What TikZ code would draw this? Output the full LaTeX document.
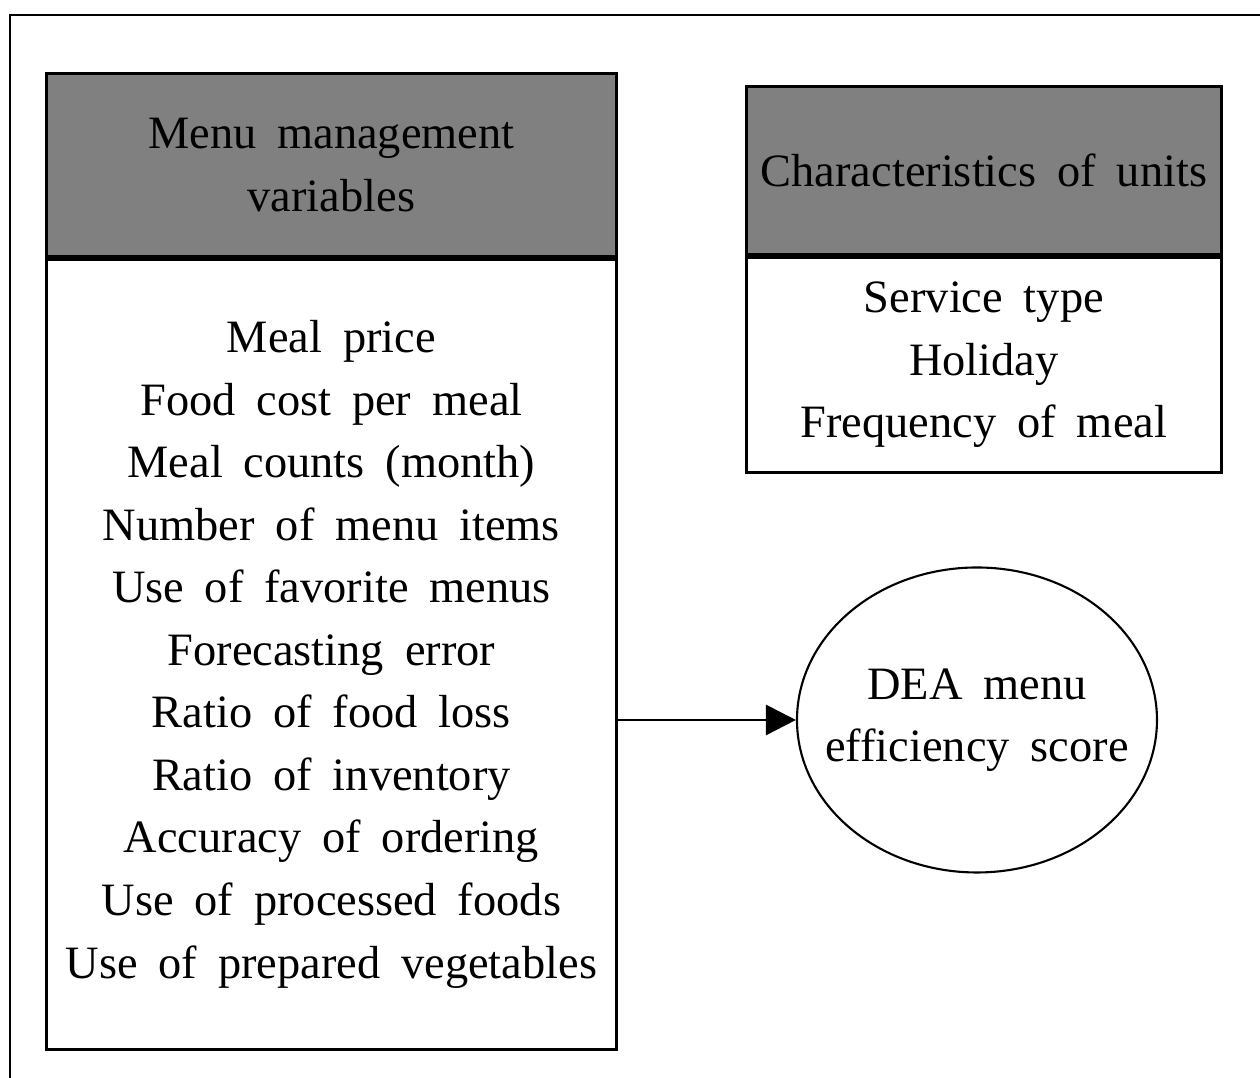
\documentclass[tikz,border=0pt]{standalone}
\usepackage{fontspec}
\setmainfont[WordSpace=1.8]{Liberation Serif}
\usetikzlibrary{arrows.meta,shapes.geometric}
\definecolor{headgray}{RGB}{128,128,128}

\begin{document}
\begin{tikzpicture}[line width=.8pt,>={Triangle[length=3mm,width=3mm]},
  font=\fontsize{13.2}{17.8}\selectfont,
  headbox/.style={draw,fill=headgray,align=center,inner sep=0pt},
  listbox/.style={draw,fill=white,align=center,inner sep=0pt}]
  \useasboundingbox (0,0) rectangle (12.6,-10.78);

  % frame, only its top and left edges fall on the page
  \draw (0.10,-10.78) |- (12.60,-0.15);

  % input variables
  \node[headbox,anchor=north west,minimum width=5.70cm,minimum height=1.83cm]
    (menuhead) at (0.45,-0.72) {Menu management\\variables};
  \node[listbox,anchor=north,minimum width=5.70cm,minimum height=7.90cm]
    (menulist) at (menuhead.south) {Meal price\\Food cost per meal\\
      Meal counts (month)\\Number of menu items\\Use of favorite menus\\
      Forecasting error\\Ratio of food loss\\Ratio of inventory\\
      Accuracy of ordering\\Use of processed foods\\Use of prepared vegetables};

  % unit characteristics
  \node[headbox,anchor=north west,minimum width=4.75cm,minimum height=1.68cm]
    (unithead) at (7.45,-0.85) {Characteristics of units};
  \node[listbox,anchor=north,minimum width=4.75cm,minimum height=2.15cm]
    (unitlist) at (unithead.south) {Service type\\Holiday\\Frequency of meal};

  % output (negative xsep keeps the ellipse tight round the text)
  \node[draw,ellipse,line width=.6pt,minimum width=3.6cm,minimum height=3.05cm,
    inner xsep=-3mm,inner ysep=0pt,align=center] (dea) at (9.77,-7.20)
    {DEA menu\\efficiency score};

  \draw[->] (menulist.east |- dea.west) -- (dea.west);
\end{tikzpicture}
\end{document}
